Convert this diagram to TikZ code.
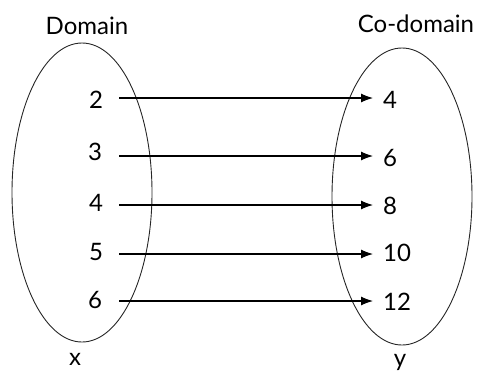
\documentclass[tikz,border=0pt]{standalone}
\usepackage{fontspec}
\setmainfont{Lato}
\usetikzlibrary{arrows.meta}
\begin{document}
\begin{tikzpicture}[x=1pt,y=-1pt,
  setbox/.style={draw=black!85,line width=0.9pt},
  elem/.style={font=\fontsize{24}{24}\selectfont,inner sep=0pt,anchor=center},
  title/.style={font=\fontsize{24}{24}\selectfont,inner sep=0pt},
  maparrow/.style={line width=1.1pt,-{Latex[length=12pt,width=9pt]}}]
\useasboundingbox (0,0) rectangle (481,378);
% the two sets
\draw[setbox] (82,192.5) ellipse [x radius=70,y radius=149.5];
\draw[setbox] (402,196.5) ellipse [x radius=70,y radius=148.5];
\node[title] (dom) at (87,26) {Domain};
\node[title] (cod) at (416,24) {Co-domain};
\node[title] (xl) at (75,359) {x};
\node[title] (yl) at (400,362) {y};
% domain elements
\node[elem] (a1) at (96,100) {2};
\node[elem] (a2) at (95,152) {3};
\node[elem] (a3) at (96,203) {4};
\node[elem] (a4) at (96,252) {5};
\node[elem] (a5) at (95,300) {6};
% co-domain elements
\node[elem,anchor=west] (b1) at (383,100) {4};
\node[elem,anchor=west] (b2) at (383,158) {6};
\node[elem,anchor=west] (b3) at (383,206) {8};
\node[elem,anchor=west] (b4) at (383,253) {10};
\node[elem,anchor=west] (b5) at (383,302) {12};
% mapping arrows
\foreach \i/\y in {1/98,2/156,3/205,4/254,5/301}{
  \coordinate (s\i) at (119,\y);
  \coordinate (t\i) at (373,\y);
  \draw[maparrow] (s\i) -- (t\i);
}
\end{tikzpicture}
\end{document}
